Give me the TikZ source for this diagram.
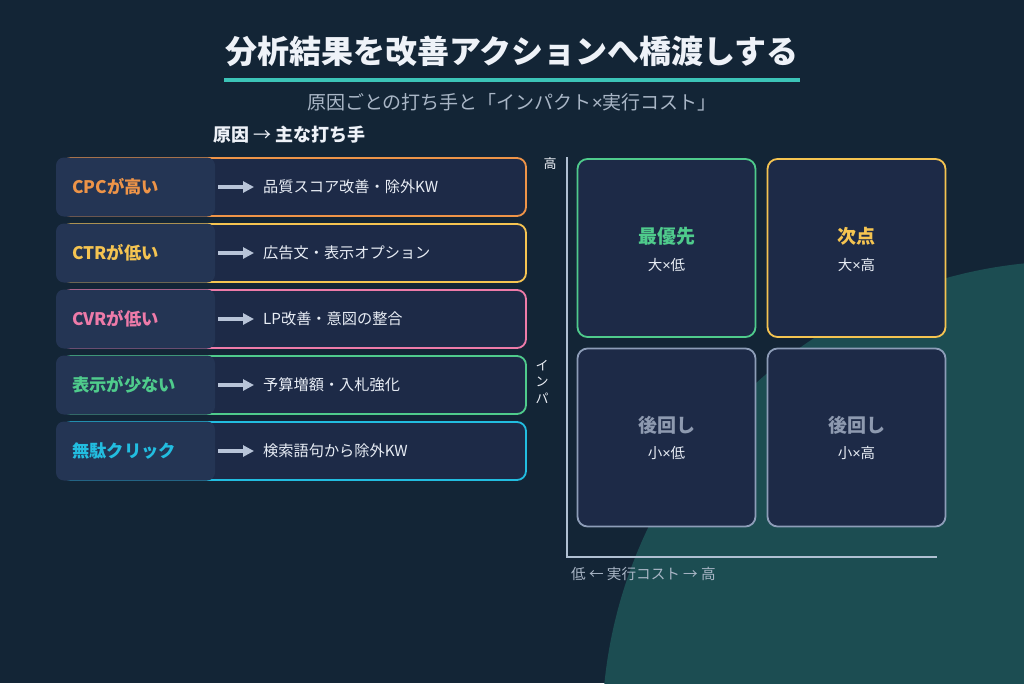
\documentclass[tikz,border=0pt]{standalone}
\usepackage{fontspec}
\setmainfont{Noto Sans CJK JP}
\newfontfamily\xfont{Liberation Sans}
\newcommand\tms{{\xfont ×}}
\usetikzlibrary{arrows.meta}
\definecolor{bg}{HTML}{132536}
\definecolor{blob}{HTML}{1C4D52}
\definecolor{titlec}{HTML}{EEF2F8}
\definecolor{linec}{HTML}{3CC4B8}
\definecolor{subc}{HTML}{A9B6C6}
\definecolor{boxfill}{HTML}{1D2A47}
\definecolor{lblfill}{HTML}{243554}
\definecolor{arrowc}{HTML}{B8C4D8}
\definecolor{actc}{HTML}{E8EDF5}
\definecolor{axisc}{HTML}{B0C0D2}
\definecolor{cOrange}{HTML}{EE9448}
\definecolor{cYellow}{HTML}{F5C451}
\definecolor{cPink}{HTML}{EE7BA9}
\definecolor{cGreen}{HTML}{4FCB8C}
\definecolor{cCyan}{HTML}{22BDE0}
\definecolor{cGrey}{HTML}{8D9DB8}
\definecolor{cGreyT}{HTML}{8E9AB0}
\tikzset{
  rowbox/.style={draw=#1, line width=1.8pt, fill=boxfill, rounded corners=9pt},
  lblbox/.style={fill=lblfill, rounded corners=8pt},
  lbltext/.style={anchor=west, inner sep=0pt, font=\fontsize{17.3}{20}\selectfont\bfseries, text=#1},
  acttext/.style={anchor=west, inner sep=0pt, font=\fontsize{15.2}{18}\selectfont, text=actc},
  rowarrow/.style={draw=arrowc, line width=3.5pt, -{Triangle[length=11pt,width=11pt]}},
  quad/.style={draw=#1, line width=1.8pt, fill=boxfill, rounded corners=10pt, minimum width=178pt, minimum height=178pt, inner sep=0pt},
  qtitle/.style={inner sep=0pt, font=\fontsize{19}{22}\selectfont\bfseries, text=#1},
  qsub/.style={inner sep=0pt, font=\fontsize{14.5}{16}\selectfont, text=actc},
  smalltext/.style={inner sep=0pt, font=\fontsize{13}{15}\selectfont, text=#1},
}
\begin{document}
\begin{tikzpicture}[x=1pt,y=-1pt]
\useasboundingbox (0,0) rectangle (1024,683);
\fill[bg] (0,0) rectangle (1024,683);
\begin{scope}
\clip (0,0) rectangle (1024,683);
\fill[blob] (1072,731) circle (470pt);
\end{scope}

% title
\node[inner sep=0pt, font=\fontsize{32}{36}\selectfont\bfseries, text=titlec] (title) at (512,51) {分析結果を改善アクションへ橋渡しする};
\coordinate (ulA) at (224,80);
\coordinate (ulB) at (800,80);
\draw[linec, line width=4pt] (ulA) -- (ulB);
\node[inner sep=0pt, font=\fontsize{19}{22}\selectfont, text=subc] (subtitle) at (512,102) {原因ごとの打ち手と「インパクト\tms 実行コスト」};
\node[anchor=west, inner sep=0pt, font=\fontsize{18}{21}\selectfont\bfseries, text=titlec] (colhead) at (213,135) {原因 {\mdseries→} 主な打ち手};

% rows
\foreach \i/\yc/\col/\lab/\act in {
  1/187/cOrange/CPCが高い/品質スコア改善・除外KW,
  2/253/cYellow/CTRが低い/広告文・表示オプション,
  3/319/cPink/CVRが低い/LP改善・意図の整合,
  4/385/cGreen/表示が少ない/予算増額・入札強化,
  5/451/cCyan/無駄クリック/検索語句から除外KW}{
  \path[rowbox=\col] (62,\yc-29) rectangle (526,\yc+29);
  \path[lblbox] (56,\yc-29.5) rectangle (215,\yc+29.5);
  \node[lbltext=\col] (lbl\i) at (72,\yc) {\lab};
  \node[acttext] (act\i) at (263,\yc) {\act};
  \coordinate (as\i) at (218,\yc);
  \draw[rowarrow] (as\i) -- ([xshift=-9pt]act\i.west);
}

% matrix axes
\coordinate (ytop) at (567,157);
\coordinate (origin) at (567,557);
\coordinate (xend) at (937,557);
\draw[axisc, line width=2.6pt] (ytop) -- (origin) -- (xend);
\node[smalltext=titlec] (yhigh) at (550,164) {高};
\node[smalltext=titlec] (yv1) at (542,366) {イ};
\node[smalltext=titlec] (yv2) at (542,382) {ン};
\node[smalltext=titlec] (yv3) at (542,398) {パ};
\node[anchor=west, inner sep=0pt, font=\fontsize{14.6}{16}\selectfont, text=subc] (xlab) at (571,574) {低 ← 実行コスト → 高};

% quadrants
\node[quad=cGreen] (q1) at (666.5,248) {};
\node[quad=cYellow] (q2) at (856.5,248) {};
\node[quad=cGrey] (q3) at (666.5,437.5) {};
\node[quad=cGrey] (q4) at (856.5,437.5) {};
\node[qtitle=cGreen] (q1t) at (666.5,236) {最優先};
\node[qsub] (q1s) at (666.5,265) {大\tms 低};
\node[qtitle=cYellow] (q2t) at (856.5,236) {次点};
\node[qsub] (q2s) at (856.5,265) {大\tms 高};
\node[qtitle=cGreyT] (q3t) at (666.5,425) {後回し};
\node[qsub] (q3s) at (666.5,453) {小\tms 低};
\node[qtitle=cGreyT] (q4t) at (856.5,425) {後回し};
\node[qsub] (q4s) at (856.5,453) {小\tms 高};
\end{tikzpicture}
\end{document}
